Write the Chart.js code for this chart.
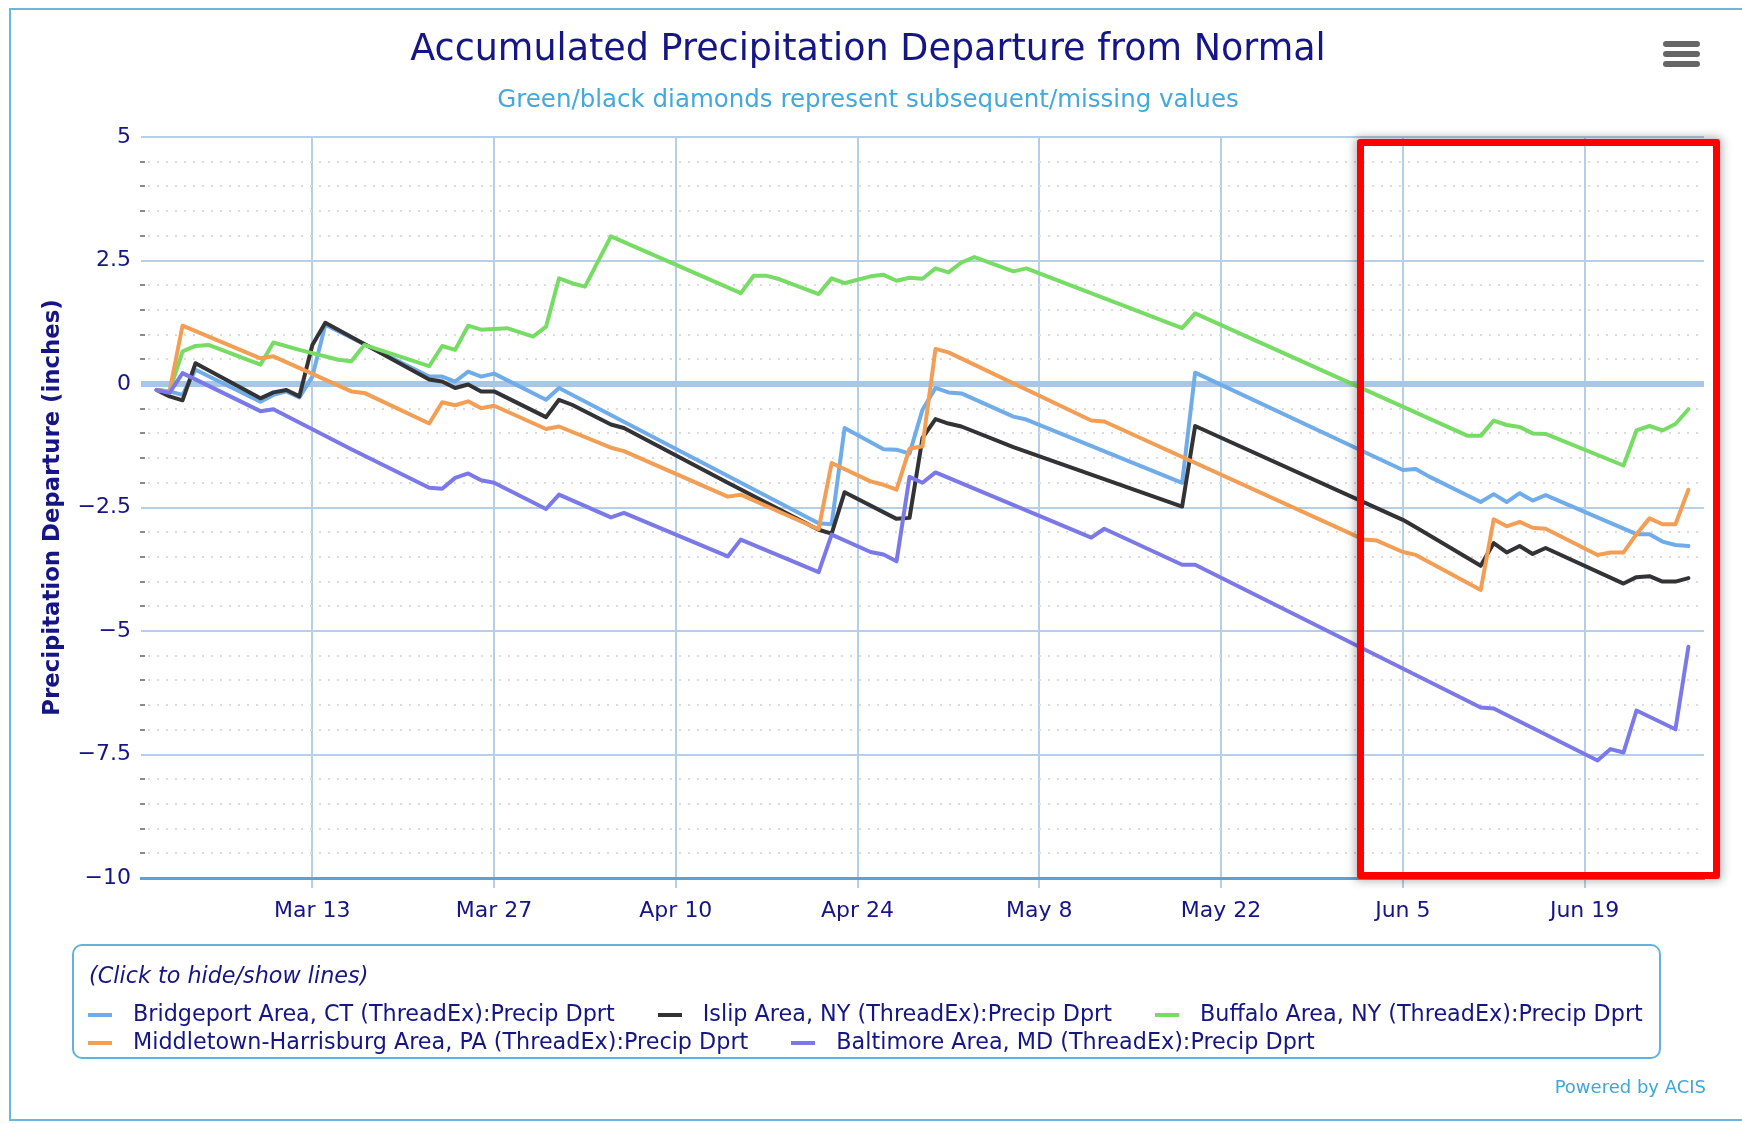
<!DOCTYPE html>
<html>
<head>
<meta charset="utf-8">
<script src="https://cdn.jsdelivr.net/npm/chart.js@4.4.1/dist/chart.umd.min.js"></script>
<style>
  html, body { margin: 0; padding: 0; width: 1742px; height: 1124px; overflow: hidden; background: #fff; font-family: "DejaVu Sans", sans-serif; }
  #frame { position: absolute; left: 9px; top: 8px; width: 1800px; height: 1109px; border: 2px solid #6bb5de; border-right: none; }
  #c { position: absolute; left: 0; top: 0; }
  .bar { position: absolute; left: 1663px; width: 37px; height: 6px; border-radius: 3px; background: #666; }
  #legend { position: absolute; left: 72px; top: 944px; width: 1585px; height: 111px; border: 2px solid #62b2de; border-radius: 10px; }
  #legendTitle { position: absolute; left: 15px; top: 15.4px; font-size: 22.3px; line-height: 28px; font-style: italic; color: #151585; white-space: nowrap; }
  #legendItems { position: absolute; left: 14px; top: 52.9px; width: 1650px; display: flex; flex-wrap: wrap; }
  .item { display: flex; align-items: flex-start; height: 28.4px; margin-right: 43px; cursor: pointer; white-space: nowrap; }
  .sw { display: block; width: 24px; height: 4px; margin-top: 14.2px; margin-right: 21px; }
  .tx { font-size: 22.3px; line-height: 28.4px; color: #151585; }
  #powered { position: absolute; right: 36px; top: 1077px; font-size: 18px; line-height: 20px; color: #3ea6da; }
  #redbox { position: absolute; left: 1357px; top: 139px; width: 349px; height: 726px; border: 7px solid #ff0000; border-radius: 3px; box-shadow: 0 0 10px 2px rgba(0,0,0,0.3); pointer-events: none; }
</style>
</head>
<body>
<div id="frame"></div>
<canvas id="c" width="1742" height="1124"></canvas>
<div class="bar" style="top:41px"></div>
<div class="bar" style="top:51px"></div>
<div class="bar" style="top:61px"></div>
<div id="legend">
  <div id="legendTitle">(Click to hide/show lines)</div>
  <div id="legendItems"></div>
</div>
<div id="powered">Powered by ACIS</div>
<div id="redbox"></div>
<script>
// x values are days since 2023-03-01
const tickDays = [12, 26, 40, 54, 68, 82, 96, 110];
const tickLabels = ["Mar 13", "Mar 27", "Apr 10", "Apr 24", "May 8", "May 22", "Jun 5", "Jun 19"];

const seriesNames = [
  "Bridgeport Area, CT (ThreadEx):Precip Dprt",
  "Islip Area, NY (ThreadEx):Precip Dprt",
  "Buffalo Area, NY (ThreadEx):Precip Dprt",
  "Middletown-Harrisburg Area, PA (ThreadEx):Precip Dprt",
  "Baltimore Area, MD (ThreadEx):Precip Dprt"
];

const bridgeportDays = [0,1,2,3,8,9,10,11,12,13,21,22,23,24,25,26,30,31,51,52,53,56,57,58,59,60,61,62,66,67,79,80,96,97,98,102,103,104,105,106,107,114,115,116,117,118];
const bridgeportValues = [-0.12,-0.15,-0.22,0.29,-0.36,-0.22,-0.15,-0.27,0.15,1.20,0.15,0.15,0.05,0.25,0.15,0.21,-0.32,-0.08,-2.82,-2.84,-0.89,-1.32,-1.33,-1.41,-0.52,-0.08,-0.17,-0.19,-0.66,-0.72,-2.00,0.23,-1.74,-1.72,-1.87,-2.39,-2.23,-2.39,-2.21,-2.36,-2.25,-3.04,-3.04,-3.19,-3.26,-3.28];

const islipDays = [0,1,2,3,8,9,10,11,12,13,21,22,23,24,25,26,30,31,32,35,36,44,51,52,53,57,58,59,60,61,62,66,79,80,96,97,102,103,104,105,106,107,113,114,115,116,117,118];
const islipValues = [-0.12,-0.25,-0.33,0.42,-0.29,-0.17,-0.12,-0.25,0.79,1.24,0.09,0.05,-0.08,-0.01,-0.15,-0.15,-0.67,-0.32,-0.42,-0.82,-0.89,-2.00,-2.95,-3.03,-2.19,-2.73,-2.71,-1.09,-0.71,-0.80,-0.86,-1.28,-2.48,-0.85,-2.75,-2.90,-3.68,-3.22,-3.41,-3.28,-3.44,-3.32,-4.04,-3.91,-3.89,-4.00,-4.00,-3.93];

const buffaloDays = [0,1,2,3,4,8,9,11,14,15,16,21,22,23,24,25,27,29,30,31,32,33,35,45,46,47,48,51,52,53,54,55,56,57,58,59,60,61,62,63,66,67,79,80,101,102,103,104,105,106,107,113,114,115,116,117,118];
const buffaloValues = [-0.12,-0.15,0.66,0.77,0.79,0.39,0.84,0.69,0.49,0.46,0.79,0.36,0.77,0.69,1.18,1.10,1.13,0.96,1.16,2.14,2.04,1.97,2.99,1.84,2.19,2.19,2.12,1.82,2.14,2.04,2.11,2.18,2.21,2.09,2.15,2.13,2.34,2.26,2.46,2.57,2.28,2.34,1.13,1.43,-1.05,-1.05,-0.74,-0.83,-0.87,-1.00,-1.01,-1.65,-0.94,-0.85,-0.94,-0.81,-0.51];

const middletownDays = [0,1,2,8,9,15,16,21,22,23,24,25,26,30,31,35,36,44,45,51,52,55,56,57,58,59,60,61,72,73,93,94,96,97,102,103,104,105,106,107,111,112,113,114,115,116,117,118];
const middletownValues = [-0.12,-0.15,1.18,0.52,0.56,-0.15,-0.18,-0.80,-0.37,-0.43,-0.35,-0.49,-0.44,-0.91,-0.86,-1.29,-1.36,-2.28,-2.24,-2.94,-1.60,-1.97,-2.04,-2.14,-1.31,-1.26,0.71,0.64,-0.74,-0.76,-3.15,-3.17,-3.40,-3.46,-4.17,-2.74,-2.88,-2.79,-2.91,-2.93,-3.46,-3.41,-3.41,-3.04,-2.72,-2.84,-2.84,-2.14];

const baltimoreDays = [0,1,2,8,9,15,21,22,23,24,25,26,30,31,35,36,44,45,51,52,55,56,57,58,59,60,72,73,79,80,102,103,111,112,113,114,117,118];
const baltimoreValues = [-0.12,-0.18,0.22,-0.55,-0.51,-1.32,-2.10,-2.12,-1.90,-1.81,-1.95,-2.00,-2.53,-2.24,-2.70,-2.61,-3.49,-3.15,-3.81,-3.05,-3.40,-3.45,-3.59,-1.88,-2.00,-1.79,-3.11,-2.93,-3.66,-3.66,-6.55,-6.57,-7.62,-7.39,-7.46,-6.61,-6.99,-5.32];

const seriesColors = ['#70ace9', '#333335', '#76dc64', '#f39e55', '#7b79e7'];

const NAVY = '#151585';
const toPoints = (days, vals) => days.map((d, i) => ({ x: d, y: vals[i] }));
const allDays = [bridgeportDays, islipDays, buffaloDays, middletownDays, baltimoreDays];
const allValues = [bridgeportValues, islipValues, buffaloValues, middletownValues, baltimoreValues];

Chart.defaults.font.family = '"DejaVu Sans", sans-serif';

const minorGrid = {
  id: 'minorGrid',
  beforeDatasetsDraw(chart) {
    const { ctx, chartArea: a, scales: { y } } = chart;
    ctx.save();
    ctx.lineWidth = 2;
    for (let k = -19; k <= 9; k++) {
      if (k % 5 === 0) continue;
      const py = Math.round(y.getPixelForValue(k * 0.5));
      ctx.strokeStyle = '#dcdcdc';
      ctx.setLineDash([2, 7]);
      ctx.beginPath(); ctx.moveTo(a.left + 7, py); ctx.lineTo(a.right, py); ctx.stroke();
      ctx.setLineDash([]);
      ctx.strokeStyle = '#8a8a8a';
      ctx.beginPath(); ctx.moveTo(a.left - 1, py); ctx.lineTo(a.left + 4, py); ctx.stroke();
    }
    ctx.restore();
  }
};

const chart = new Chart(document.getElementById('c'), {
  type: 'line',
  data: {
    datasets: seriesNames.map((name, i) => ({
      label: name,
      data: toPoints(allDays[i], allValues[i]),
      borderColor: seriesColors[i],
      backgroundColor: seriesColors[i],
      borderWidth: 4,
      pointRadius: 0,
      pointHoverRadius: 0,
      tension: 0,
      borderJoinStyle: 'round',
      borderCapStyle: 'round',
      order: seriesNames.length - i
    }))
  },
  options: {
    responsive: false,
    animation: false,
    devicePixelRatio: 1,
    layout: { autoPadding: false, padding: { left: 32, right: 38, top: 0, bottom: 186 } },
    plugins: {
      legend: { display: false },
      tooltip: { enabled: false },
      title: {
        display: true,
        text: 'Accumulated Precipitation Departure from Normal',
        color: NAVY,
        font: { size: 36.5, weight: 'normal', lineHeight: 1.2 },
        padding: { top: 28.4, bottom: 0 }
      },
      subtitle: {
        display: true,
        text: 'Green/black diamonds represent subsequent/missing values',
        color: '#43a9dc',
        font: { size: 24.5, weight: 'normal', lineHeight: 1.2 },
        padding: { top: 13.7, bottom: 21.7 }
      }
    },
    scales: {
      x: {
        type: 'linear',
        min: -1.2,
        max: 119.2,
        afterBuildTicks: (s) => { s.ticks = tickDays.map(v => ({ value: v })); },
        afterFit: (s) => { s.height = 60; },
        ticks: {
          autoSkip: false, maxRotation: 0, minRotation: 0, padding: 10,
          color: NAVY, font: { size: 22 },
          callback: (v, i) => tickLabels[i]
        },
        grid: { color: '#b4cfe7', lineWidth: 2, drawTicks: true, tickLength: 10, tickColor: '#b4cfe7', tickWidth: 2 },
        border: { display: true, color: '#5aa2db', width: 3 }
      },
      y: {
        type: 'linear',
        min: -10,
        max: 5,
        afterFit: (s) => { s.width = 109; },
        ticks: {
          stepSize: 2.5, padding: 10, color: NAVY, font: { size: 22 },
          callback: (v) => (v < 0 ? '\u2212' + Math.abs(v) : String(v))
        },
        grid: {
          drawTicks: false,
          color: (c) => (c.tick && c.tick.value === 0 ? '#a7c7e4' : '#b4cfe7'),
          lineWidth: (c) => (c.tick && c.tick.value === 0 ? 6 : 2)
        },
        border: { display: false },
        title: {
          display: true,
          text: 'Precipitation Departure (inches)',
          color: NAVY,
          font: { size: 22.8, weight: 'bold', lineHeight: 1.2 },
          padding: { top: 7.5, bottom: 0 }
        }
      }
    }
  },
  plugins: [minorGrid]
});

// HTML legend built from the chart's datasets
const legendItems = document.getElementById('legendItems');
chart.data.datasets.forEach((ds, i) => {
  const item = document.createElement('div');
  item.className = 'item';
  const sw = document.createElement('span');
  sw.className = 'sw';
  sw.style.background = ds.borderColor;
  const tx = document.createElement('span');
  tx.className = 'tx';
  tx.textContent = ds.label;
  item.appendChild(sw);
  item.appendChild(tx);
  item.addEventListener('click', () => {
    chart.setDatasetVisibility(i, !chart.isDatasetVisible(i));
    item.style.opacity = chart.isDatasetVisible(i) ? '1' : '0.4';
    chart.update();
  });
  legendItems.appendChild(item);
});
</script>
</body>
</html>
